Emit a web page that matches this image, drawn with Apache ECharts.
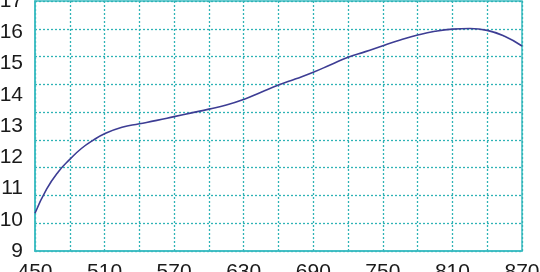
<!DOCTYPE html>
<html>
<head>
<meta charset="utf-8">
<script src="https://cdn.jsdelivr.net/npm/echarts@6/dist/echarts.min.js"></script>
<style>
html,body{margin:0;padding:0;background:#fff;}
#chart{width:540px;height:272px;}
</style>
</head>
<body>
<div id="chart"></div>
<script>
var xValues = [450, 460, 470, 480, 490, 500, 510, 525, 540, 555, 570, 585, 600, 615, 630, 645, 660, 675, 690, 705, 720, 735, 750, 765, 780, 795, 810, 825, 840, 855, 870];
var yValues = [10.21, 10.98, 11.53, 11.93, 12.28, 12.54, 12.75, 12.96, 13.07, 13.18, 13.3, 13.42, 13.54, 13.67, 13.85, 14.08, 14.31, 14.51, 14.72, 14.96, 15.2, 15.38, 15.57, 15.75, 15.91, 16.03, 16.1, 16.12, 16.06, 15.87, 15.56];
var xTickMin = 450, xTickMax = 870, xTickStep = 60;
var yTickMin = 9, yTickMax = 17, yTickStep = 1;

var teal = '#3bbcc2';
var gridDash = '#2fb3b6';
var textStyle = {color: '#1a1a1a', fontSize: 21, fontFamily: 'Liberation Sans, Arial, sans-serif'};

var chart = echarts.init(document.getElementById('chart'));
chart.setOption({
  animation: false,
  backgroundColor: '#fff',
  grid: {left: 35, right: 18, top: 1, bottom: 21, show: true, borderColor: teal, borderWidth: 1.5, containLabel: false, outerBoundsMode: 'none'},
  xAxis: [{
    type: 'value', min: xTickMin, max: xTickMax, interval: xTickStep,
    axisLine: {show: true, lineStyle: {color: teal, width: 1.5}},
    axisTick: {show: false},
    axisLabel: Object.assign({margin: 11, hideOverlap: false}, textStyle),
    splitLine: {show: true, lineStyle: {color: gridDash, type: [2, 2], width: 1.3}},
    minorTick: {show: false, splitNumber: 2},
    minorSplitLine: {show: true, lineStyle: {color: gridDash, type: [2, 2], width: 1.3}}
  }],
  yAxis: [{
    type: 'value', min: yTickMin, max: yTickMax, interval: yTickStep,
    axisLine: {show: true, lineStyle: {color: teal, width: 1.5}},
    axisTick: {show: false},
    axisLabel: Object.assign({margin: 12, hideOverlap: false, padding: [0, 0, 4, 0]}, textStyle),
    splitLine: {show: false}
  }, {
    type: 'value', min: 0, max: 9, interval: 1, position: 'left',
    axisLine: {show: false}, axisTick: {show: false}, axisLabel: {show: false},
    splitLine: {show: true, lineStyle: {color: gridDash, type: [2, 2], width: 1.3}}
  }],
  series: [{
    type: 'line',
    data: xValues.map(function (x, i) { return [x, yValues[i]]; }),
    smooth: 0.5,
    showSymbol: false,
    lineStyle: {color: '#3d3d94', width: 1.6},
    z: 5
  }]
});
</script>
</body>
</html>
